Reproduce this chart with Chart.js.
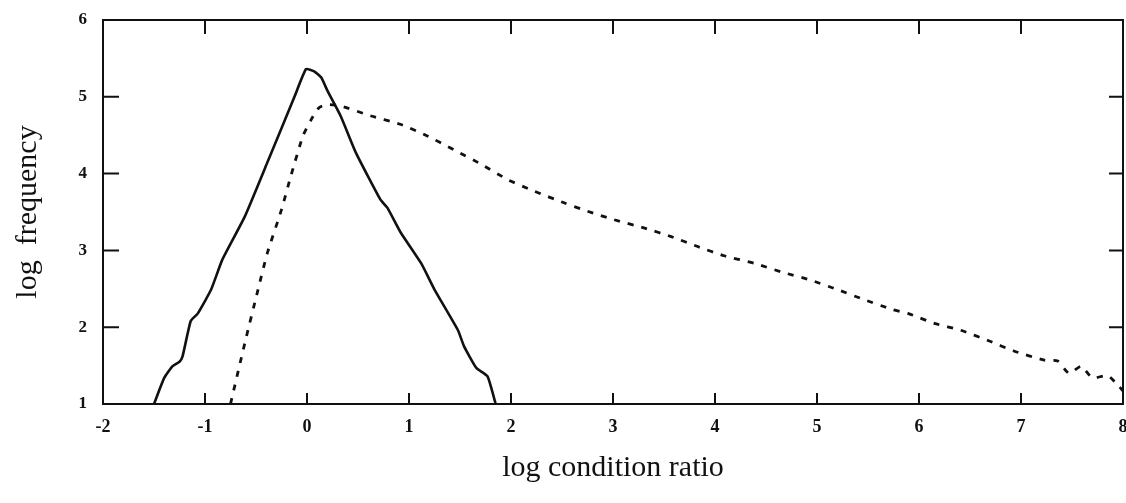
<!DOCTYPE html>
<html>
<head>
<meta charset="utf-8">
<script src="https://cdn.jsdelivr.net/npm/chart.js@4/dist/chart.umd.min.js"></script>
<style>
  body { margin: 0; background: #fff; }
  #wrap { width: 1126px; height: 503px; }
</style>
</head>
<body>
<div id="wrap"><canvas id="plot"></canvas></div>
<script>
// solid curve
const solidX = [-1.50, -1.40, -1.32, -1.25, -1.22, -1.14, -1.07, -0.94, -0.83, -0.61, -0.39, -0.12, -0.01, 0.07, 0.14, 0.20, 0.33, 0.48, 0.72, 0.79, 0.92, 1.12, 1.25, 1.48, 1.54, 1.66, 1.77, 1.85];
const solidY = [1.00, 1.34, 1.49, 1.55, 1.62, 2.08, 2.18, 2.49, 2.88, 3.44, 4.14, 5.01, 5.36, 5.33, 5.25, 5.08, 4.75, 4.27, 3.66, 3.55, 3.23, 2.83, 2.49, 1.96, 1.75, 1.47, 1.36, 1.00];

// dashed curve
const dashX = [-0.75, -0.61, -0.48, -0.39, -0.25, -0.16, -0.04, 0.04, 0.12, 0.20, 0.33, 0.63, 0.92, 1.18, 1.44, 1.71, 1.97, 2.23, 2.52, 2.75, 3.01, 3.31, 3.57, 3.83, 4.09, 4.39, 4.65, 4.92, 5.20, 5.46, 5.74, 5.89, 6.15, 6.41, 6.67, 6.93, 7.23, 7.36, 7.47, 7.59, 7.70, 7.85, 7.96, 8.00];
const dashY = [1.00, 1.79, 2.49, 2.96, 3.53, 3.96, 4.49, 4.70, 4.86, 4.90, 4.88, 4.75, 4.64, 4.49, 4.31, 4.12, 3.92, 3.77, 3.62, 3.51, 3.40, 3.29, 3.18, 3.05, 2.93, 2.83, 2.72, 2.62, 2.49, 2.36, 2.23, 2.18, 2.05, 1.96, 1.83, 1.69, 1.57, 1.56, 1.40, 1.49, 1.34, 1.37, 1.23, 1.17];

const xTicks = [-2, -1, 0, 1, 2, 3, 4, 5, 6, 7, 8];
const yTicks = [1, 2, 3, 4, 5, 6];

const ink = '#111';

// little inward tick marks on all four sides + the box
const frame = {
  id: 'frame',
  afterDraw(chart) {
    const {ctx, chartArea: a, scales} = chart;
    ctx.save();
    ctx.strokeStyle = ink;
    ctx.lineWidth = 2;
    ctx.strokeRect(a.left, a.top, a.right - a.left, a.bottom - a.top);
    xTicks.slice(1, -1).forEach(v => {
      const px = scales.x.getPixelForValue(v);
      ctx.beginPath();
      ctx.moveTo(px, a.bottom); ctx.lineTo(px, a.bottom - 11);
      ctx.moveTo(px, a.top); ctx.lineTo(px, a.top + 14);
      ctx.stroke();
    });
    yTicks.slice(1, -1).forEach(v => {
      const py = scales.y.getPixelForValue(v);
      ctx.beginPath();
      ctx.moveTo(a.left, py); ctx.lineTo(a.left + 16, py);
      ctx.moveTo(a.right, py); ctx.lineTo(a.right - 14, py);
      ctx.stroke();
    });
    ctx.restore();
  }
};

new Chart(document.getElementById('plot'), {
  type: 'line',
  data: {
    datasets: [
      {
        data: solidX.map((x, i) => ({x: x, y: solidY[i]})),
        borderColor: ink,
        borderWidth: 2.6,
        pointRadius: 0,
        tension: 0.15
      },
      {
        data: dashX.map((x, i) => ({x: x, y: dashY[i]})),
        borderColor: ink,
        borderWidth: 2.8,
        borderDash: [6, 8],
        pointRadius: 0,
        tension: 0.2
      }
    ]
  },
  options: {
    responsive: true,
    maintainAspectRatio: false,
    animation: false,
    layout: { padding: { top: 20, right: 3, left: 0, bottom: 0 } },
    plugins: { legend: { display: false }, tooltip: { enabled: false } },
    scales: {
      x: {
        type: 'linear',
        min: -2, max: 8,
        afterFit: s => { s.height = 99; s.paddingLeft = 0; s.paddingRight = 0; },
        afterBuildTicks: s => { s.ticks = xTicks.map(v => ({value: v})); },
        grid: { display: false },
        border: { display: false },
        ticks: {
          color: ink,
          padding: 5,
          maxRotation: 0,
          font: { family: 'Liberation Serif', size: 18, weight: 'bold' }
        },
        title: {
          display: true,
          text: 'log condition ratio',
          color: ink,
          padding: { bottom: 17 },
          font: { family: 'Liberation Serif', size: 30 }
        }
      },
      y: {
        min: 1, max: 6,
        afterFit: s => { s.width = 103; },
        afterBuildTicks: s => { s.ticks = yTicks.map(v => ({value: v})); },
        grid: { display: false },
        border: { display: false },
        ticks: {
          color: ink,
          padding: 8,
          font: { family: 'Liberation Serif', size: 17, weight: 'bold' }
        },
        title: {
          display: true,
          text: 'log  frequency',
          color: ink,
          padding: { top: 10 },
          font: { family: 'Liberation Serif', size: 30 }
        }
      }
    }
  },
  plugins: [frame]
});
</script>
</body>
</html>
